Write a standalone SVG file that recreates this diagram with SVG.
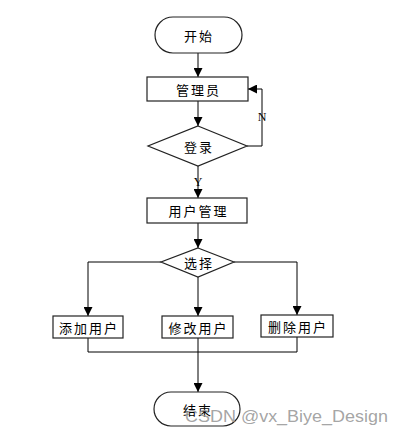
<svg xmlns="http://www.w3.org/2000/svg" width="404" height="435" viewBox="0 0 404 435">
<defs>
<marker id="ah" viewBox="0 0 10 10" refX="10" refY="5" markerWidth="9" markerHeight="9" markerUnits="userSpaceOnUse" orient="auto"><path d="M0,0 L10,5 L0,10 Z" fill="#000"/></marker>
</defs>
<style>
.n{fill:#fff;stroke:#222;stroke-width:1.2}
.t{font-family:"Noto Sans CJK SC","Noto Sans",sans-serif;font-size:13px;fill:#000;text-anchor:middle;dominant-baseline:central;letter-spacing:2px}
.l{font-family:"Liberation Serif",serif;font-size:12px;fill:#000;text-anchor:middle;dominant-baseline:central}
.c{fill:none;stroke:#000;stroke-width:1}
</style>
<rect width="404" height="435" fill="#fff"/>
<g id="connectors">
<path class="c" d="M198,53 V77" marker-end="url(#ah)"/>
<path class="c" d="M198,101 V126" marker-end="url(#ah)"/>
<path class="c" d="M247,146 H262 V89 H248" marker-end="url(#ah)"/>
<path class="c" d="M198,166 V198" marker-end="url(#ah)"/>
<path class="c" d="M198,223 V248" marker-end="url(#ah)"/>
<path class="c" d="M161,262 H88 V316" marker-end="url(#ah)"/>
<path class="c" d="M198,277 V316" marker-end="url(#ah)"/>
<path class="c" d="M234,262 H297 V315" marker-end="url(#ah)"/>
<path class="c" d="M88,338 V352 H297 V337"/>
<path class="c" d="M198,338 V392" stroke-width="1.6" marker-end="url(#ah)"/>
<text class="l" x="262" y="117">N</text>
<text class="l" x="198" y="182">Y</text>
</g>
<g id="start"><rect class="n" x="155" y="17" width="87" height="36" rx="18"/><text class="t" x="199" y="35">开始</text></g>
<g id="admin"><rect class="n" x="147" y="77" width="101" height="24"/><text class="t" x="198.5" y="89">管理员</text></g>
<g id="login"><polygon class="n" points="198,126 247,146 198,166 148,146"/><text class="t" x="199" y="146">登录</text></g>
<g id="usermgr"><rect class="n" x="147" y="198" width="100" height="25"/><text class="t" x="198.5" y="210.5">用户管理</text></g>
<g id="choose"><polygon class="n" points="198,248 234,262 198,277 161,262"/><text class="t" x="199" y="262">选择</text></g>
<g id="add"><rect class="n" x="53" y="316" width="70" height="22"/><text class="t" x="89" y="327">添加用户</text></g>
<g id="edit"><rect class="n" x="162" y="316" width="71" height="22"/><text class="t" x="198.5" y="327">修改用户</text></g>
<g id="del"><rect class="n" x="261" y="315" width="72" height="22"/><text class="t" x="298" y="326">删除用户</text></g>
<g id="end"><rect class="n" x="154" y="392" width="86" height="34" rx="17"/><text class="t" x="198" y="409">结束</text></g>
<text x="185" y="422" font-family="Liberation Sans,Arial,sans-serif" font-size="17" fill="#9a9a9a" fill-opacity="0.9" textLength="203" lengthAdjust="spacingAndGlyphs">CSDN @vx_Biye_Design</text>
</svg>
